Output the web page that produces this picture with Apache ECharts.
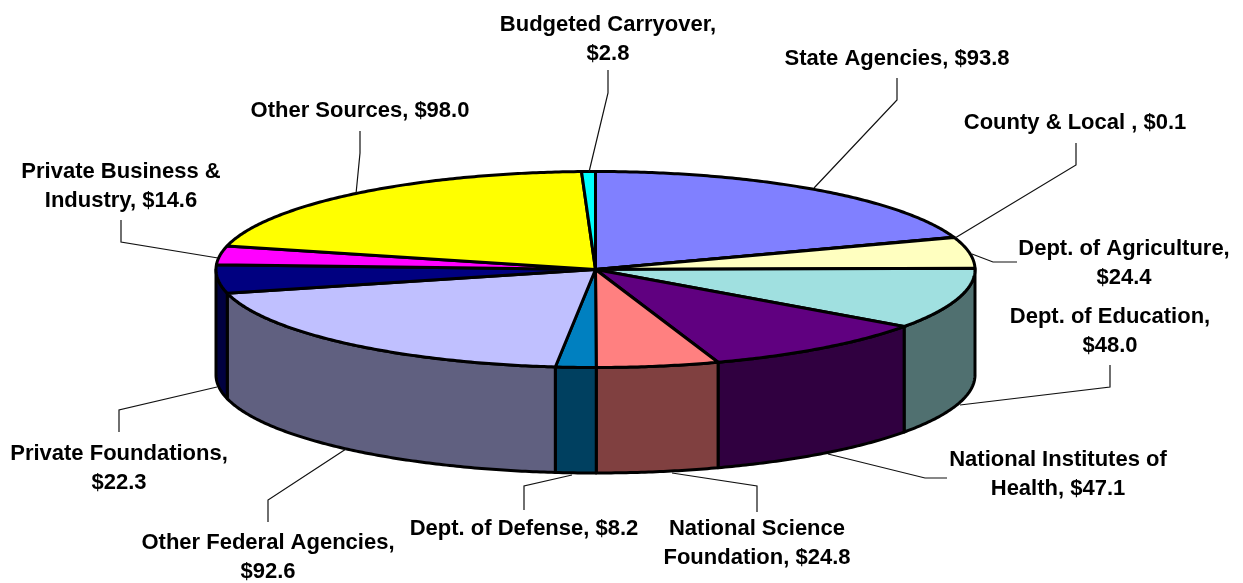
<!DOCTYPE html>
<html><head><meta charset="utf-8">
<style>html,body{margin:0;padding:0;background:#fff}#c{width:1243px;height:583px}</style>
<script src="https://cdn.jsdelivr.net/npm/echarts@6/dist/echarts.min.js"></script>
</head><body><div id="c"></div>
<script>
const categories = ['State Agencies','County & Local ','Dept. of Agriculture','Dept. of Education','National Institutes of Health','National Science Foundation','Dept. of Defense','Other Federal Agencies','Private Foundations','Private Business & Industry','Other Sources','Budgeted Carryover'];
const values = [93.8,0.1,24.4,48.0,47.1,24.8,8.2,92.6,22.3,14.6,98.0,2.8];
const labelTexts = ['State Agencies, $93.8','County & Local , $0.1','Dept. of Agriculture,\n$24.4','Dept. of Education,\n$48.0','National Institutes of\nHealth, $47.1','National Science\nFoundation, $24.8','Dept. of Defense, $8.2','Other Federal Agencies,\n$92.6','Private Foundations,\n$22.3','Private Business &\nIndustry, $14.6','Other Sources, $98.0','Budgeted Carryover,\n$2.8'];
const topColors = ['#8080FF','#FFFFC0','#FFFFC0','#A0E0E0','#600080','#FF8080','#0080C0','#C0C0FF','#000080','#FF00FF','#FFFF00','#00FFFF'];
const sideColors = ['#404080','#808060','#808060','#507070','#300040','#804040','#004060','#606080','#000040','#800080','#808000','#008080'];

// Layout of the tilted pie
const CX = 595.5, CY = 269.5, RX = 379.5, RY = 98, DEPTH = 105.5;
// Label layout: centre x, first-line centre y, leader polyline
const labelLayout = [
 {x:897,y:59,line:[[897,78],[897,100],[814,188]]},
 {x:1075,y:123,line:[[1076,143],[1076,165],[955,238]]},
 {x:1124,y:249,line:[[1017,262],[993,262],[972,254]]},
 {x:1110,y:317,line:[[1110,365],[1110,387],[960,405]]},
 {x:1058,y:460,line:[[947,478],[925,478],[828,454]]},
 {x:757,y:529,line:[[757,512],[757,486],[672,473]]},
 {x:524,y:529,line:[[524,510],[524,486],[572,475]]},
 {x:268,y:543,line:[[268,522],[268,500],[346,449]]},
 {x:119,y:454,line:[[119,432],[119,410],[217,387]]},
 {x:121,y:172,line:[[121,220],[121,242],[218,258]]},
 {x:360,y:111,line:[[360,131],[360,153],[356,194]]},
 {x:608,y:25,line:[[608,70],[608,93],[589,172]]}
];

const total = values.reduce((a,b)=>a+b,0);
const cum = [0];
values.forEach(v=>cum.push(cum[cum.length-1]+v));
const ang = v => v/total*2*Math.PI;
const px = (a,dy=0)=>[CX+RX*Math.sin(a), CY-RY*Math.cos(a)+dy];
function arc(a0,a1,dy){
  const n=Math.max(2,Math.ceil((a1-a0)/0.01)), pts=[];
  for(let i=0;i<=n;i++) pts.push(px(a0+(a1-a0)*i/n,dy));
  return pts;
}
const tableData = categories.map((c,i)=>({name:c,value:values[i]}));
const edge = {stroke:'#000',lineWidth:3,lineJoin:'round'};

const sideSeries = {
  type:'custom',coordinateSystem:'none',silent:true,z:1,data:tableData,
  renderItem(p){
    const i=p.dataIndex;
    const a0=Math.max(ang(cum[i]),Math.PI/2), a1=Math.min(ang(cum[i+1]),Math.PI*1.5);
    if(a1<=a0) return {type:'group',children:[]};
    const pts=arc(a0,a1,0).concat(arc(a0,a1,DEPTH).reverse());
    return {type:'polygon',shape:{points:pts},style:Object.assign({fill:sideColors[i]},edge)};
  }
};
const topSeries = {
  type:'custom',coordinateSystem:'none',silent:true,z:2,data:tableData,
  renderItem(p){
    const i=p.dataIndex;
    const pts=[[CX,CY]].concat(arc(ang(cum[i]),ang(cum[i+1]),0));
    return {type:'polygon',shape:{points:pts},style:Object.assign({fill:topColors[i]},edge)};
  }
};
const leaderSeries = {
  type:'custom',coordinateSystem:'none',silent:true,z:3,data:tableData,
  renderItem(p){
    return {type:'polyline',shape:{points:labelLayout[p.dataIndex].line},
      style:{fill:'none',stroke:'#111',lineWidth:1.2}};
  }
};
const labelSeries = {
  type:'custom',coordinateSystem:'none',silent:true,z:4,data:tableData,
  renderItem(p){
    const i=p.dataIndex,l=labelLayout[i];
    return {type:'text',x:l.x,y:l.y-14,style:{text:labelTexts[i],fill:'#000',
      font:'bold 22px "Liberation Sans", Arial, sans-serif',align:'center',verticalAlign:'top',lineHeight:28.5}};
  }
};
const chart = echarts.init(document.getElementById('c'),null,{renderer:'canvas'});
chart.setOption({animation:false,backgroundColor:'#fff',series:[sideSeries,topSeries,leaderSeries,labelSeries]});
</script></body></html>
